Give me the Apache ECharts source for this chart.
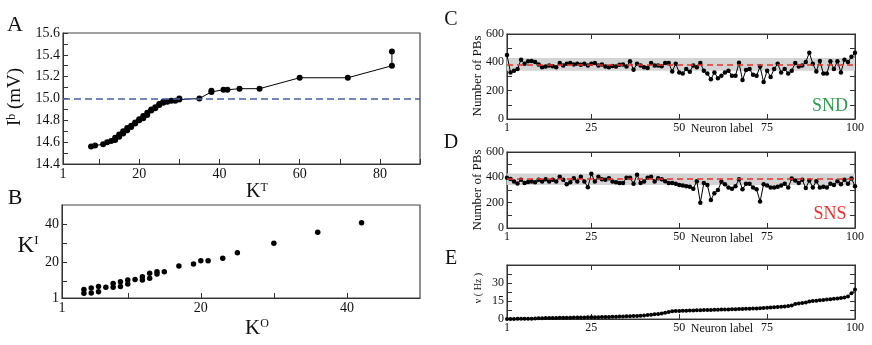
<!DOCTYPE html>
<html>
<head>
<meta charset="utf-8">
<script src="https://cdn.jsdelivr.net/npm/echarts@6/dist/echarts.min.js"></script>
<style>
  html, body { margin: 0; background: #fff; }
  #fig { width: 872px; height: 345px; }
</style>
</head>
<body>
<div id="fig"></div>
<script>
  // panel A: bias current vs total degree
  const ktDeg = [8, 9, 11, 12, 13, 14, 14, 15, 15, 16, 16, 17, 17, 18, 18, 19, 19, 20, 20, 21, 21, 22, 22, 23, 23,
    24, 24, 25, 25, 26, 26, 27, 28, 29, 30, 30, 35, 38, 38, 41, 42, 45, 50, 60, 72, 83, 83]
  const ibVal = [14.56, 14.57, 14.58, 14.60, 14.61, 14.62, 14.64, 14.65, 14.67, 14.68, 14.70, 14.71, 14.73, 14.74,
    14.75, 14.77, 14.78, 14.80, 14.81, 14.82, 14.84, 14.85, 14.87, 14.89, 14.90, 14.91, 14.92, 14.94, 14.95, 14.96,
    14.97, 14.97, 14.98, 14.98, 14.99, 15.00, 15.00, 15.06, 15.07, 15.08, 15.08, 15.09, 15.09, 15.19, 15.19, 15.30, 15.43]
  const ibRef = 15.0
  const ktTicks = [10, 20, 30, 40, 50, 60, 70, 80, 90]
  const ktLabels = [1, 20, 40, 60, 80]

  // panel B: in-degree vs out-degree
  const koDeg = [4, 4, 5, 5, 6, 6, 7, 8, 8, 9, 9, 10, 10, 11, 12, 12, 13, 13, 14, 14, 15, 17, 19, 20, 21, 23, 25, 30, 36, 42]
  const kiDeg = [5.5, 3.5, 6.3, 3.6, 7, 4.3, 6.6, 8.7, 6.6, 9.6, 7, 10.5, 8.4, 10.8, 12.2, 10.5, 14, 11.4, 14.8, 13.6,
    14.8, 17.8, 18.9, 20.6, 20.6, 21.9, 24.8, 29.8, 35.6, 40.6]
  const kTicks = [10, 20, 30, 40]
  const kLabels = [1, 20, 40]

  // panels C, D: number of PBs per neuron
  const sndPB = [451, 329, 341, 353, 419, 390, 407, 409, 402, 385, 365, 370, 378, 373, 365, 395, 378, 390, 395, 385,
    390, 383, 390, 378, 390, 395, 378, 385, 370, 365, 375, 370, 383, 385, 370, 407, 348, 390, 378, 365,
    360, 395, 378, 378, 373, 395, 395, 336, 390, 329, 322, 353, 334, 378, 365, 395, 341, 322, 280, 329,
    288, 305, 329, 341, 305, 305, 397, 275, 346, 353, 312, 305, 370, 261, 341, 297, 353, 390, 329, 353,
    322, 341, 395, 370, 378, 402, 468, 390, 336, 409, 322, 322, 407, 353, 407, 329, 419, 402, 439, 468]
  const snsPB = [397, 387, 368, 352, 380, 356, 364, 368, 361, 380, 368, 385, 368, 380, 368, 404, 380, 345, 361, 392,
    368, 404, 368, 321, 428, 368, 404, 385, 380, 392, 368, 361, 356, 356, 397, 397, 349, 421, 356, 368,
    397, 404, 368, 392, 385, 370, 355, 355, 350, 340, 335, 330, 325, 310, 370, 200, 355, 340, 222, 275,
    300, 365, 345, 320, 310, 330, 385, 305, 350, 350, 320, 305, 210, 345, 335, 320, 320, 325, 335, 350,
    320, 390, 375, 355, 380, 315, 375, 320, 370, 320, 325, 320, 350, 340, 370, 345, 380, 350, 390, 330]
  const pbMean = 385
  const pbBand = [340, 430]

  // panel E: firing rate, sorted
  const nuHz = [0.1, 0.1, 0.1, 0.2, 0.2, 0.2, 0.3, 0.3, 0.5, 0.6, 0.7, 0.8, 0.8, 0.9, 0.9, 1.0, 1.0, 1.1, 1.1, 1.2,
    1.2, 1.3, 1.3, 1.4, 1.4, 1.5, 1.5, 1.6, 1.6, 1.7, 1.8, 1.9, 2.0, 2.1, 2.2, 2.3, 2.5, 2.6, 2.8, 3.0,
    3.3, 3.6, 3.9, 4.2, 4.6, 5.2, 5.9, 6.4, 6.6, 6.7, 6.8, 6.9, 7.0, 7.1, 7.2, 7.3, 7.4, 7.5, 7.6, 7.7,
    7.8, 7.9, 8.0, 8.0, 8.1, 8.2, 8.3, 8.4, 8.5, 8.6, 8.7, 8.8, 9.0, 9.2, 9.4, 9.6, 9.8, 10.0, 10.2, 10.5,
    10.8, 11.2, 12.5, 13.0, 13.4, 13.8, 14.5, 15.0, 15.3, 15.6, 15.9, 16.2, 16.5, 16.8, 17.1, 17.4, 17.9, 18.8, 21.5, 24.5]
  const neuronTicks = [25, 50, 75]
  const neuronLabels = [1, 25, 50, 75, 100]

  const serif = "'Liberation Serif', 'DejaVu Serif', serif"
  const ink = '#111'

  const pairs = (xs, ys) => ys.map((v, i) => [xs[i], v])
  const byNeuron = ys => ys.map((v, i) => [i + 1, v])

  function xAxis(grid, min, max, ticks, labels, fontSize, pos) {
    return {
      type: 'value', gridIndex: grid, min: min, max: max, position: pos || 'bottom',
      splitLine: { show: false },
      axisLine: { show: true, onZero: false, lineStyle: { color: '#333', width: 1 } },
      axisTick: { inside: true, length: 5, customValues: ticks, lineStyle: { color: '#333' } },
      axisLabel: labels ? {
        customValues: labels, fontFamily: serif, fontSize: fontSize, color: ink, margin: 3
      } : { show: false }
    }
  }

  function yAxis(grid, min, max, interval, shown, fontSize, pos) {
    return {
      type: 'value', gridIndex: grid, min: min, max: max, interval: interval, position: pos || 'left',
      splitLine: { show: false },
      axisLine: { show: true, onZero: false, lineStyle: { color: '#333', width: 1 } },
      axisTick: { inside: true, length: 5, lineStyle: { color: '#333' } },
      axisLabel: shown ? {
        fontFamily: serif, fontSize: fontSize, color: ink, margin: 3,
        formatter: v => shown(v)
      } : { show: false }
    }
  }

  function text(x, y, str, size, extra, color) {
    return Object.assign({
      type: 'text', x: x, y: y,
      style: {
        text: str, fontFamily: serif, fontSize: size, fill: color || ink,
        align: 'center', verticalAlign: 'middle'
      }
    }, extra || {})
  }

  // letter with a superscript, e.g. K^T
  function supText(x, y, base, sup, tail, size, supSize, rotation) {
    return {
      type: 'text', x: x, y: y, rotation: rotation || 0,
      style: {
        text: '{b|' + base + '}{s|' + sup + '}' + (tail ? '{b|' + tail + '}' : ''),
        align: 'center', verticalAlign: 'middle',
        rich: {
          b: { fontFamily: serif, fontSize: size, fill: ink, verticalAlign: 'bottom', lineHeight: size },
          s: { fontFamily: serif, fontSize: supSize, fill: ink, verticalAlign: 'top', lineHeight: size }
        }
      }
    }
  }

  const pbLabel = v => (v % 200 === 0 ? v : '')
  const frame = { show: true, borderColor: '#444', borderWidth: 1.2, backgroundColor: 'transparent' }

  function pbSeries(axis, values) {
    return [{
      type: 'line', xAxisIndex: axis, yAxisIndex: axis, z: 1, silent: true,
      data: [[1, pbMean], [100, pbMean]], symbol: 'none', lineStyle: { opacity: 0 },
      markArea: { silent: true, itemStyle: { color: '#d4d4d4' }, data: [[{ yAxis: pbBand[0] }, { yAxis: pbBand[1] }]] },
      markLine: {
        silent: true, symbol: 'none', label: { show: false },
        lineStyle: { color: '#e8302a', type: [6, 4], width: 1.5 }, data: [{ yAxis: pbMean }]
      }
    }, {
      type: 'line', xAxisIndex: axis, yAxisIndex: axis, z: 3,
      data: byNeuron(values), symbol: 'circle', symbolSize: 4.5,
      lineStyle: { color: '#000', width: 1 }, itemStyle: { color: '#000' }
    }]
  }

  const chart = echarts.init(document.getElementById('fig'))
  chart.setOption({
    animation: false,
    grid: [
      Object.assign({ left: 63, top: 33, width: 357, height: 131 }, frame),
      Object.assign({ left: 62, top: 205, width: 358, height: 93 }, frame),
      Object.assign({ left: 507, top: 34, width: 348, height: 85 }, frame),
      Object.assign({ left: 507, top: 152, width: 348, height: 76 }, frame),
      Object.assign({ left: 507, top: 265, width: 348, height: 54 }, frame)
    ],
    xAxis: [
      xAxis(0, 1, 90, ktTicks, ktLabels, 14),
      xAxis(1, 1, 50, kTicks, kLabels, 14),
      xAxis(2, 1, 100, neuronTicks, neuronLabels, 12),
      xAxis(2, 1, 100, neuronTicks, null, 12, 'top'),
      xAxis(3, 1, 100, neuronTicks, neuronLabels, 12),
      xAxis(3, 1, 100, neuronTicks, null, 12, 'top'),
      xAxis(4, 1, 100, neuronTicks, neuronLabels, 12),
      xAxis(4, 1, 100, neuronTicks, null, 12, 'top')
    ],
    yAxis: [
      yAxis(0, 14.4, 15.6, 0.1, v => {
        const k = Math.round(v * 10)
        return k % 2 === 0 ? (k / 10).toFixed(1) : ''
      }, 14),
      Object.assign(yAxis(1, 1, 50, null, null, 14), {
        interval: null,
        axisTick: { inside: true, length: 5, customValues: kTicks, lineStyle: { color: '#333' } },
        axisLabel: { customValues: kLabels, fontFamily: serif, fontSize: 14, color: ink, margin: 3 }
      }),
      yAxis(2, 0, 600, 100, pbLabel, 12),
      yAxis(2, 0, 600, 100, null, 12, 'right'),
      yAxis(3, 0, 600, 100, pbLabel, 12),
      yAxis(3, 0, 600, 100, null, 12, 'right'),
      yAxis(4, 0, 45, 7.5, v => ([0, 15, 30].indexOf(v) >= 0 ? v : ''), 12),
      yAxis(4, 0, 45, 7.5, null, 12, 'right')
    ],
    series: [
      {
        type: 'line', xAxisIndex: 0, yAxisIndex: 0,
        data: pairs(ktDeg, ibVal), symbol: 'circle', symbolSize: 6,
        lineStyle: { color: '#000', width: 1 }, itemStyle: { color: '#000' },
        markLine: {
          silent: true, symbol: 'none', label: { show: false },
          lineStyle: { color: '#4a5ea8', type: [7, 4], width: 1.5 }, data: [{ yAxis: ibRef }]
        }
      },
      {
        type: 'scatter', xAxisIndex: 1, yAxisIndex: 1,
        data: pairs(koDeg, kiDeg), symbolSize: 5.5, itemStyle: { color: '#000', opacity: 1 }
      },
      ...pbSeries(2, sndPB),
      ...pbSeries(4, snsPB),
      {
        type: 'line', xAxisIndex: 6, yAxisIndex: 6,
        data: byNeuron(nuHz), symbol: 'circle', symbolSize: 4,
        lineStyle: { color: '#000', width: 1 }, itemStyle: { color: '#000' }
      }
    ],
    graphic: [
      text(15, 25, 'A', 22),
      text(15, 198, 'B', 22),
      text(451, 20, 'C', 20),
      text(451, 143, 'D', 20),
      text(451, 259, 'E', 20),
      supText(15, 97, 'I', 'b', ' (mV)', 19, 12, Math.PI / 2),
      supText(257, 192, 'K', 'T', null, 20, 12),
      supText(28, 246, 'K', 'I', null, 23, 13),
      supText(257, 328, 'K', 'O', null, 21, 12),
      text(478, 76, 'Number of PBs', 13, { rotation: Math.PI / 2 }),
      text(478, 190, 'Number of PBs', 13, { rotation: Math.PI / 2 }),
      text(478, 288, 'ν ( Hz )', 10, { rotation: Math.PI / 2 }),
      text(722, 129, 'Neuron label', 12),
      text(722, 239, 'Neuron label', 12),
      text(722, 329, 'Neuron label', 12),
      text(830, 106, 'SND', 18, null, '#2e9a4e'),
      text(830, 214, 'SNS', 18, null, '#e8302a')
    ]
  })
</script>
</body>
</html>
